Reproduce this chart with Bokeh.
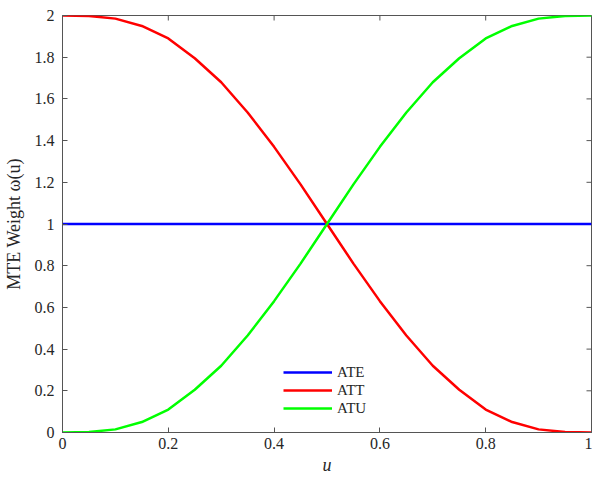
import math
from bokeh.plotting import figure
from bokeh.models import (ColumnDataSource, FixedTicker, CustomJSTickFormatter,
                          Range1d, Legend, LegendItem)
from bokeh.embed import file_html
from bokeh.resources import INLINE

# ---- data ----
u = [0.0, 0.05, 0.1, 0.15, 0.2, 0.25, 0.3, 0.35, 0.4, 0.45, 0.5,
     0.55, 0.6, 0.65, 0.7, 0.75, 0.8, 0.85, 0.9, 0.95, 1.0]
ate = [1.0] * 21
att = [2.0, 1.998, 1.985, 1.950, 1.89, 1.795, 1.68, 1.535, 1.37, 1.19, 1.0,
       0.81, 0.63, 0.465, 0.32, 0.205, 0.11, 0.05, 0.015, 0.002, 0.0]
atu = [0.0, 0.002, 0.015, 0.05, 0.11, 0.205, 0.32, 0.465, 0.63, 0.81, 1.0,
       1.19, 1.37, 1.535, 1.68, 1.795, 1.89, 1.950, 1.985, 1.998, 2.0]
x_ticks = [0, 0.2, 0.4, 0.6, 0.8, 1]
y_ticks = [0, 0.2, 0.4, 0.6, 0.8, 1, 1.2, 1.4, 1.6, 1.8, 2]

FONT = "Liberation Serif"
AX = "#555555"
TXT = "#262626"

src = ColumnDataSource(dict(u=u, ate=ate, att=att, atu=atu))

p = figure(width=592, height=477, output_backend="svg", toolbar_location=None,
           x_range=Range1d(0, 1), y_range=Range1d(0, 2),
           x_axis_label="u", y_axis_label="MTE Weight ω(u)",
           min_border_left=62, min_border_right=1, min_border_top=15, min_border_bottom=44)
p.xgrid.visible = False
p.ygrid.visible = False
p.outline_line_color = AX
p.outline_line_width = 1
p.background_fill_color = "white"
p.border_fill_color = "white"

fmt = CustomJSTickFormatter(code="return String(Number(tick.toFixed(2)));")

def style_axis(ax, ticks):
    ax.ticker = FixedTicker(ticks=ticks)
    ax.formatter = fmt
    ax.axis_line_color = AX
    ax.major_tick_line_color = AX
    ax.major_tick_in = 5
    ax.major_tick_out = 0
    ax.minor_tick_line_color = None
    ax.major_label_text_font = FONT
    ax.major_label_text_color = TXT
    ax.major_label_text_font_size = "16px"
    ax.axis_label_text_font = FONT
    ax.axis_label_text_color = TXT
    ax.axis_label_text_font_size = "18px"
    ax.axis_label_text_font_style = "normal"

style_axis(p.xaxis[0], x_ticks)
style_axis(p.yaxis[0], y_ticks)
p.xaxis[0].axis_label_text_font_style = "italic"
p.xaxis[0].major_label_standoff = 5
p.xaxis[0].axis_label_standoff = 3
p.yaxis[0].major_label_standoff = 8
p.yaxis[0].axis_label_standoff = 8

# inward ticks on the top and right edges of the box
p.ray(x=x_ticks, y=[2] * len(x_ticks), length=5, length_units="screen",
      angle=-math.pi / 2, line_color=AX, line_width=1)
p.ray(x=[1] * len(y_ticks), y=y_ticks, length=5, length_units="screen",
      angle=math.pi, line_color=AX, line_width=1)

r_ate = p.line("u", "ate", source=src, line_color="#0000ff", line_width=2.5)
r_att = p.line("u", "att", source=src, line_color="#ff0000", line_width=2.5)
r_atu = p.line("u", "atu", source=src, line_color="#00ff00", line_width=2.5)

legend = Legend(items=[LegendItem(label="ATE", renderers=[r_ate]),
                       LegendItem(label="ATT", renderers=[r_att]),
                       LegendItem(label="ATU", renderers=[r_atu])],
                location=(221, 15), padding=0, margin=0, spacing=0,
                glyph_width=49, glyph_height=18, label_height=18, label_standoff=5,
                label_text_font=FONT, label_text_font_size="15px", label_text_color=TXT,
                border_line_color=None, background_fill_alpha=0)
p.add_layout(legend, "center")

open("out.html", "w").write(file_html(p, INLINE))
